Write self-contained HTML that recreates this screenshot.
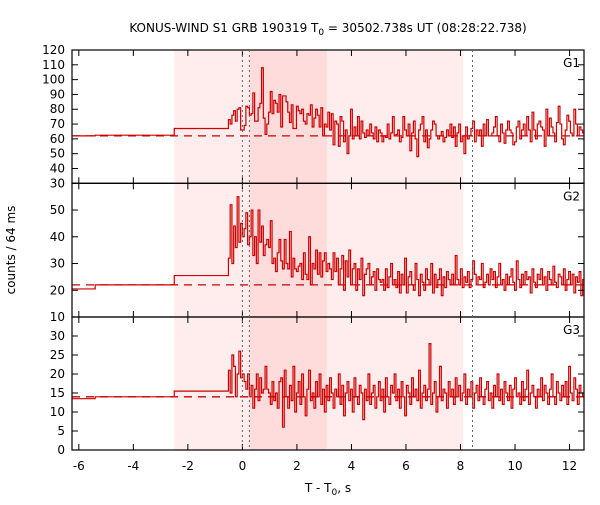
<!DOCTYPE html>
<html><head><meta charset="utf-8"><style>
body{margin:0;background:#fff}
svg text{font-family:"DejaVu Sans","Liberation Sans",sans-serif;font-size:12px;fill:#000}
</style></head><body>
<svg id="chart" width="600" height="500" xmlns="http://www.w3.org/2000/svg">
<text x="328" y="32" text-anchor="middle">KONUS-WIND S1 GRB 190319 T<tspan font-size="9" dy="3">0</tspan><tspan dy="-3"> = 30502.738s UT (08:28:22.738)</tspan></text>
<text x="328" y="492" text-anchor="middle">T - T<tspan font-size="9" dy="3">0</tspan><tspan dy="-3">, s</tspan></text>
<text transform="translate(15,250) rotate(-90)" text-anchor="middle">counts / 64 ms</text>
<g id="plot"></g>
</svg>
<script>
const binStart = -0.512, binWidth = 0.064;
const panelNames = ["G1","G2","G3"];
const preEdges = [-6.25,-5.4,-2.5,-0.512];
const g1Pre = [62,62.5,67];
const g2Pre = [20.5,22,25.5];
const g3Pre = [13.5,14,15.5];
const backgrounds = [62,22,14];
const g1 = [73,70,76,79,72,80,81,66, 66,69,82,81,76,77,91,72, 72,81,84,108,74,63,70,78, 92,77,86,84,78,90,68,89,
89,85,78,71,83,67,67,82, 79,77,80,72,70,77,76,83, 68,74,80,76,68,81,62,70, 68,78,66,77,56,72,70,55,
75,72,58,66,50,62,80,60, 68,62,75,60,72,64,61,66, 62,70,64,60,68,58,66,64, 58,62,61,70,60,64,75,62,
63,66,58,61,75,66,62,70, 52,64,72,60,48,66,70,75, 58,66,54,60,66,72,70,62, 60,62,65,58,61,66,62,70,
61,68,55,64,70,58,62,50, 68,60,62,67,72,58,66,62, 66,55,70,62,73,62,62,64, 68,75,62,58,70,64,57,66,
72,66,64,56,58,68,72,60, 66,70,62,75,66,58,78,66, 60,70,72,68,66,55,80,62, 74,68,64,58,71,82,70,60,
56,66,76,72,64,62,80,70, 62,68,66,64];
const g2 = [32,52,30,44,36,55,38,45, 40,43,49,37,40,50,33,40, 30,50,38,44,33,37,39,36, 46,30,32,27,34,39,31,28,
39,30,28,42,25,32,28,27, 29,30,24,34,26,24,40,22, 30,28,35,26,34,25,31,34, 27,30,28,24,34,27,32,22,
28,33,20,31,25,35,22,28, 30,20,28,24,32,18,26,28, 30,22,25,27,20,28,24,23, 24,20,28,21,25,30,22,24,
21,27,19,26,22,32,19,25, 27,22,20,30,24,18,26,23, 20,28,24,22,30,19,26,21, 24,28,18,25,21,27,24,22,
26,22,33,24,22,28,21,25, 23,27,21,24,31,26,22,25, 24,30,21,23,26,22,28,24, 27,21,25,30,22,24,20,26,
22,25,28,23,20,31,24,21, 26,22,27,24,25,19,28,23, 21,26,24,28,22,25,20,27, 24,22,29,23,21,26,25,22,
28,20,24,27,22,26,19,25, 23,27,18,24];
const g3 = [21,15,25,22,14,20,26,19, 20,18,16,20,14,17,11,16, 20,13,19,15,16,22,16,15, 12,18,13,15,11,18,19,6,
21,14,11,17,13,22,10,15, 18,12,20,14,9,16,21,13, 15,11,18,14,20,12,16,10, 17,13,19,15,11,16,14,20,
12,17,9,15,18,13,16,10, 19,14,12,17,15,8,16,13, 20,12,15,17,11,14,18,13, 16,10,19,14,12,17,15,20,
13,16,11,18,14,9,17,15, 12,19,14,16,13,21,11,15, 17,13,16,28,12,15,18,10, 14,22,13,16,15,11,18,14,
16,12,19,14,17,13,15,20, 12,16,14,18,11,15,17,13, 19,14,12,16,18,13,15,11, 17,14,20,13,16,12,18,15,
13,17,11,16,19,14,15,12, 18,13,16,21,12,15,17,14, 11,16,14,19,13,17,15,12, 16,20,14,12,18,15,13,17,
14,18,12,22,15,13,19,16, 12,17,15,14];
const xTicks = [-6,-4,-2,0,2,4,6,8,10,12];
const yTicks = [[30,40,50,60,70,80,90,100,110,120],[10,20,30,40,50],[0,5,10,15,20,25,30]];
const yLabels = [[30,40,50,60,70,80,90,100,110,120],[10,20,30,40,50],[0,5,10,15,20,25,30]];
const yRanges = [[30,120],[10,60],[0,35]];
const lightRegion = [-2.5,8.1], darkRegion = [0.256,3.1];
const dottedTimes = [0,0.256,8.44];

const L=72,R=584,tMin=-6.25,tMax=12.53;
const panelTops=[50,183.3,317], panelBots=[183.3,317,450];
const X=t=>L+(t-tMin)/(tMax-tMin)*(R-L);
const NS="http://www.w3.org/2000/svg";
const plot=document.getElementById('plot');
function mk(tag,attrs,parent){const e=document.createElementNS(NS,tag);for(const k in attrs)e.setAttribute(k,attrs[k]);(parent||plot).appendChild(e);return e;}
const series=[g1,g2,g3], pres=[g1Pre,g2Pre,g3Pre];

let r=mk('rect',{x:X(lightRegion[0]),y:50,width:X(lightRegion[1])-X(lightRegion[0]),height:400,fill:'#ffeded'});


r=mk('rect',{x:X(darkRegion[0]),y:50,width:X(darkRegion[1])-X(darkRegion[0]),height:400,fill:'#ffdcdc'});



series.forEach((vals,p)=>{
  const [lo,hi]=yRanges[p], top=panelTops[p], bot=panelBots[p];
  const Y=v=>bot-(v-lo)/(hi-lo)*(bot-top);
  const g=mk('g',{});
  
  
  let bl=mk('line',{x1:L,x2:R,y1:Y(backgrounds[p]),y2:Y(backgrounds[p]),stroke:'#cc0000','stroke-width':1.3,'stroke-dasharray':'8,6'},g);
  
  
  let d='M'+X(preEdges[0])+','+Y(pres[p][0]);
  for(let i=0;i<pres[p].length;i++){d+=' L'+X(preEdges[i])+','+Y(pres[p][i])+' L'+X(preEdges[i+1])+','+Y(pres[p][i]);}
  vals.forEach((v,i)=>{const t0=binStart+i*binWidth;d+=' L'+X(t0)+','+Y(v)+' L'+Math.min(R,X(t0+binWidth))+','+Y(v);});
  let pth=mk('path',{d:d,fill:'none',stroke:'#cc0000','stroke-width':1.2},g);
  
  
  mk('rect',{x:L,y:top,width:R-L,height:bot-top,fill:'none',stroke:'#000','stroke-width':1.2},g);
  xTicks.forEach(t=>{mk('line',{x1:X(t),x2:X(t),y1:top,y2:top+6,stroke:'#000'},g);mk('line',{x1:X(t),x2:X(t),y1:bot,y2:bot-6,stroke:'#000'},g);});
  yTicks[p].forEach(v=>{mk('line',{x1:L,x2:L+6,y1:Y(v),y2:Y(v),stroke:'#000'},g);mk('line',{x1:R,x2:R-6,y1:Y(v),y2:Y(v),stroke:'#000'},g);});
  yLabels[p].forEach(v=>{const tx=mk('text',{x:L-7,y:Y(v)+4,'text-anchor':'end'},g);tx.textContent=v;
    
    });
  const nm=mk('text',{x:R-4,y:top+17,'text-anchor':'end'},g);nm.textContent=panelNames[p];
  
  
});
dottedTimes.forEach(t=>{const l=mk('line',{x1:X(t),x2:X(t),y1:50,y2:450,stroke:'#666','stroke-dasharray':'2,3'});
  
  });
xTicks.forEach(t=>{const tx=mk('text',{x:X(t),y:470,'text-anchor':'middle'});tx.textContent=t;
  
  });
</script>
</body></html>
